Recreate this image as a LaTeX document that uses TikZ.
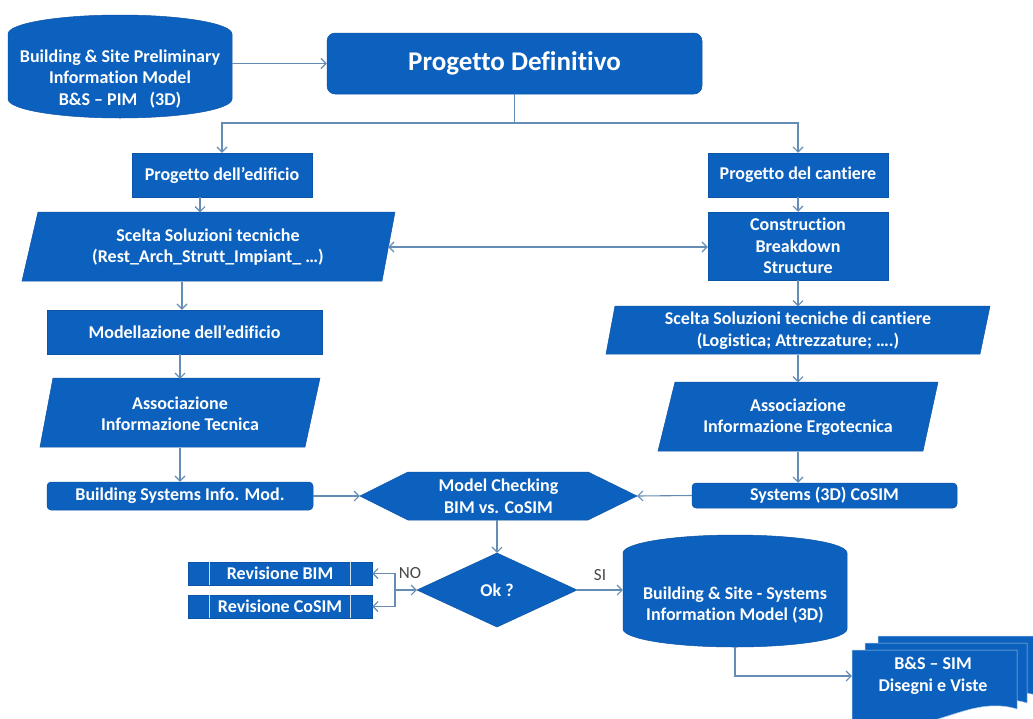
\documentclass[tikz,border=0pt]{standalone}
\usepackage{fontspec}
\setmainfont{Carlito}[Ligatures=NoCommon]
\usetikzlibrary{arrows.meta,calc}
\definecolor{bfill}{RGB}{12,97,190}
\definecolor{bedge}{RGB}{12,84,165}
\definecolor{conncol}{RGB}{100,140,180}
\definecolor{lbl}{RGB}{70,70,70}
\begin{document}
\begin{tikzpicture}[x=1pt,y=-1pt,
  txt/.style={text=white, font=\bfseries\fontsize{18}{21.5}\selectfont, align=center, inner sep=0pt},
  box/.style={txt, fill=bfill, draw=bedge, line width=0.5pt},
  shp/.style={fill=bfill, draw=bedge, line width=0.5pt},
  doc/.style={fill=bfill, draw=white!65!bfill, line width=0.5pt},
  conn/.style={draw=conncol, line width=1.1pt},
  arr/.style={conn, -{Straight Barb[length=5pt,width=10pt]}},
  darr/.style={conn, {Straight Barb[length=5pt,width=10pt]}-{Straight Barb[length=5pt,width=10pt]}},
  lab/.style={text=lbl, font=\fontsize{17}{20}\selectfont, inner sep=1pt},
  revline/.style={draw=white!80!bfill, line width=0.8pt}]
\useasboundingbox (0,0) rectangle (1033,718);
\clip (0,0) rectangle (1033,718);
\fill[white] (0,0) rectangle (1033,718);

% ---- cylinder 1
\path[shp] (8,34) .. controls (8,23.5) and (58.1,15) .. (120,15) .. controls (181.9,15) and (232,23.5) .. (232,34)
  -- (232,99) .. controls (232,109.5) and (181.9,118) .. (120,118) .. controls (58.1,118) and (8,109.5) .. (8,99) -- cycle;
\node[txt, minimum width=224pt, minimum height=80pt] (cyl1) at (120,79)
  {Building \& Site Preliminary\\Information Model\\B\&S – PIM\ \ \ (3D)};

% ---- top
\node[box, rounded corners=8pt, minimum width=375pt, minimum height=61pt,
  font=\bfseries\fontsize{27}{31}\selectfont] (pd) at (514.5,63.5) {Progetto Definitivo};

% ---- left column
\node[box, minimum width=180pt, minimum height=44pt] (pe) at (222,175) {Progetto dell’edificio};
\path[shp] (38,212) -- (395,212) -- (382,281) -- (22,281) -- cycle;
\node[txt, minimum width=360pt, minimum height=69pt] (sc1) at (208,247)
  {Scelta Soluzioni tecniche\\(Rest\_Arch\_Strutt\_Impiant\_ …)};
\node[box, minimum width=275pt, minimum height=44pt] (mod) at (184.5,332) {Modellazione dell’edificio};
\path[shp] (53,378) -- (320,378) -- (305,447) -- (40,447) -- cycle;
\node[txt, minimum width=270pt, minimum height=69pt] (at1) at (180,413.5)
  {Associazione\\Informazione Tecnica};
\node[box, rounded corners=4pt, minimum width=266pt, minimum height=28pt] (bsim) at (180,496)
  {Building Systems Info. Mod.};

% ---- right column
\node[box, minimum width=180pt, minimum height=44pt] (pc) at (798,175) {Progetto del cantiere};
\node[box, minimum width=180pt, minimum height=68pt] (cbs) at (798,246) {Construction\\Breakdown\\Structure};
\path[shp] (615,306) -- (990,306) -- (980,354) -- (606,354) -- cycle;
\node[txt, minimum width=380pt, minimum height=48pt] (sc2) at (798,330.5)
  {Scelta Soluzioni tecniche di cantiere\\(Logistica; Attrezzature; ….)};
\path[shp] (675,382) -- (938,382) -- (923,451) -- (658,451) -- cycle;
\node[txt, minimum width=272pt, minimum height=69pt] (at2) at (798,417)
  {Associazione\\Informazione Ergotecnica};
\node[box, rounded corners=4pt, minimum width=265pt, minimum height=25pt] (sys) at (824.5,495.5)
  {Systems (3D) CoSIM};

% ---- checking
\path[shp] (360,496) -- (408,472) -- (588,472) -- (637,496) -- (588,520) -- (408,520) -- cycle;
\node[txt, minimum width=277pt, minimum height=48pt] (hex) at (498.5,496) {Model Checking\\BIM vs. CoSIM};
\path[shp] (417,590) -- (497,553) -- (577,590) -- (497,627) -- cycle;
\node[txt, minimum width=160pt, minimum height=74pt] (ok) at (497,590) {Ok ?};

% ---- revisions
\node[box, minimum width=184pt, minimum height=23pt] (rb) at (280,573.5) {Revisione BIM};
\node[box, minimum width=184pt, minimum height=23pt] (rc) at (280,606.5) {Revisione CoSIM};
\draw[revline] ([xshift=22pt]rb.north west) -- ([xshift=22pt]rb.south west);
\draw[revline] ([xshift=-22pt]rb.north east) -- ([xshift=-22pt]rb.south east);
\draw[revline] ([xshift=22pt]rc.north west) -- ([xshift=22pt]rc.south west);
\draw[revline] ([xshift=-22pt]rc.north east) -- ([xshift=-22pt]rc.south east);

% ---- cylinder 2
\path[shp] (623,553) .. controls (623,543.1) and (673.1,535) .. (735,535) .. controls (796.9,535) and (847,543.1) .. (847,553)
  -- (847,629) .. controls (847,638.9) and (796.9,647) .. (735,647) .. controls (673.1,647) and (623,638.9) .. (623,629) -- cycle;
\node[txt, minimum width=224pt, minimum height=84pt] (cyl2) at (735,605)
  {Building \& Site - Systems\\Information Model (3D)};

% ---- multi-document
\path[doc] (878,636) -- (1040,636) -- (1040,696) .. controls (1000,684) and (970,708) .. (930,712) .. controls (905,714) and (890,710) .. (878,707) -- cycle;
\path[doc] (865,643) -- (1027,643) -- (1027,703) .. controls (990,691) and (958,715) .. (918,719) .. controls (893,721) and (878,717) .. (865,714) -- cycle;
\path[doc] (852,650) -- (1017,650) -- (1017,709) .. controls (978,697) and (946,722) .. (906,726) .. controls (881,728) and (866,724) .. (852,721) -- cycle;
\node[txt, minimum width=162pt, minimum height=48pt] (md) at (933,676) {B\&S – SIM\\Disegni e Viste};

% ---- connectors
\coordinate (j1) at (514.5,123);
\coordinate (c1) at (200,0);
\coordinate (c2) at (182,0);
\coordinate (c3) at (180,0);
\coordinate (jn) at (395,0);
\draw[arr] (cyl1.east |- pd.west) -- (pd.west);
\draw[conn] (pd.south) -- (j1);
\draw[arr] (j1) -| (pe.north);
\draw[arr] (j1) -| (pc.north);
\draw[arr] (pe.south -| c1) -- (sc1.north -| c1);
\draw[darr] (sc1.east) -- (sc1.east -| cbs.west);
\draw[arr] (sc1.south -| c2) -- (mod.north -| c2);
\draw[arr] (mod.south -| c3) -- (at1.north -| c3);
\draw[arr] (at1.south -| c3) -- (bsim.north -| c3);
\draw[arr] (pc.south) -- (cbs.north);
\draw[arr] (cbs.south) -- (sc2.north);
\draw[arr] (sc2.south) -- (at2.north);
\draw[arr] (at2.south -| sc2.south) -- (sys.north -| sc2.south);
\draw[arr] (bsim.east) -- (hex.west);
\draw[arr] (sys.west) -- (hex.east);
\draw[arr] (hex.south -| ok.north) -- (ok.north);
\draw[arr] (ok.east) -- (ok.east -| cyl2.west);
\draw[arr] (jn |- ok.west) -- (ok.west);
\draw[arr] (jn |- ok.west) |- (rb.east);
\draw[arr] (jn |- ok.west) |- (rc.east);
\draw[arr] (cyl2.south) |- (md.west);
\node[lab] (no) at (410,573) {NO};
\node[lab] (si) at (600,575) {SI};
\end{tikzpicture}
\end{document}
